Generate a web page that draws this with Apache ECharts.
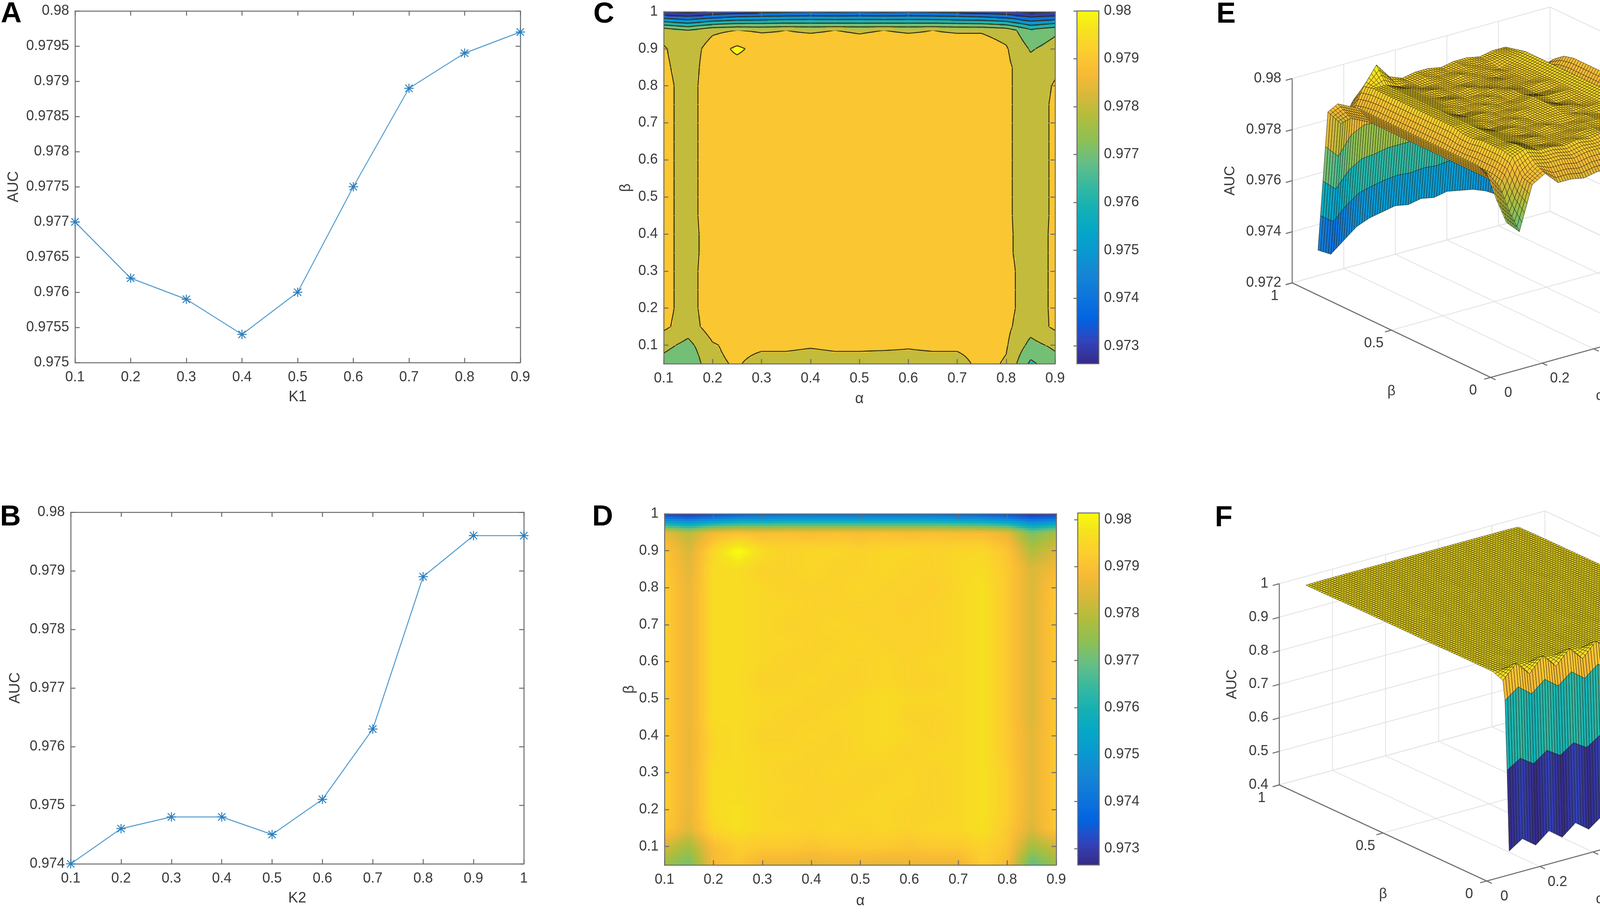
<!DOCTYPE html>
<html>
<head>
<meta charset="utf-8">
<script src="https://cdn.jsdelivr.net/npm/echarts@6/dist/echarts.min.js"></script>
<style>
  html, body { margin: 0; padding: 0; background: #fff; }
  #chart { width: 4550px; height: 2342px; }
</style>
</head>
<body>
<div id="chart"></div>
<script>
// ---- panel A / B : AUC against K1 and K2 ----
const K1 = [0.1, 0.2, 0.3, 0.4, 0.5, 0.6, 0.7, 0.8, 0.9]
const AUC_K1 = [0.9770, 0.9762, 0.9759, 0.9754, 0.9760, 0.9775, 0.9789, 0.9794, 0.9797]
const K2 = [0.1, 0.2, 0.3, 0.4, 0.5, 0.6, 0.7, 0.8, 0.9, 1.0]
const AUC_K2 = [0.9740, 0.9746, 0.9748, 0.9748, 0.9745, 0.9751, 0.9763, 0.9789, 0.9796, 0.9796]

// ---- panels C / D / E : AUC over the (alpha, beta) grid ----
const ALPHA = [0.1, 0.15, 0.2, 0.25, 0.3, 0.35, 0.4, 0.45, 0.5, 0.55, 0.6, 0.65, 0.7, 0.75, 0.8, 0.85, 0.9]
const BETA = [0.05, 0.1, 0.15, 0.2, 0.25, 0.3, 0.35, 0.4, 0.45, 0.5, 0.55, 0.6, 0.65, 0.7, 0.75, 0.8, 0.85, 0.9, 0.95, 1.0]
// one row per beta (bottom to top), one column per alpha
const AUC_AB = [
  [0.9776,0.9771,0.9788,0.9791,0.9786,0.9786,0.9785,0.9786,0.9786,0.9785,0.9786,0.9786,0.9786,0.9793,0.9789,0.9768,0.9776],
  [0.9783,0.9777,0.9789,0.9793,0.9792,0.9792,0.9791,0.9792,0.9792,0.9792,0.9791,0.9792,0.9792,0.9794,0.9791,0.9777,0.9782],
  [0.9792,0.9785,0.9795,0.9797,0.9795,0.9795,0.9794,0.9795,0.9794,0.9795,0.9794,0.9795,0.9795,0.9797,0.9792,0.9784,0.9792],
  [0.9793,0.9786,0.9796,0.9797,0.9795,0.9794,0.9794,0.9794,0.9795,0.9795,0.9794,0.9794,0.9795,0.9797,0.9793,0.9785,0.9792],
  [0.9793,0.9786,0.9796,0.9796,0.9795,0.9795,0.9794,0.9794,0.9794,0.9795,0.9795,0.9794,0.9795,0.9797,0.9793,0.9785,0.9792],
  [0.9793,0.9786,0.9796,0.9796,0.9795,0.9794,0.9794,0.9795,0.9794,0.9794,0.9795,0.9794,0.9795,0.9797,0.9793,0.9785,0.9792],
  [0.9793,0.9786,0.9795,0.9796,0.9795,0.9795,0.9794,0.9794,0.9795,0.9795,0.9794,0.9795,0.9795,0.9797,0.9792,0.9785,0.9792],
  [0.9793,0.9786,0.9795,0.9796,0.9794,0.9794,0.9795,0.9794,0.9795,0.9796,0.9795,0.9794,0.9795,0.9797,0.9792,0.9785,0.9792],
  [0.9793,0.9786,0.9796,0.9796,0.9795,0.9794,0.9794,0.9795,0.9795,0.9796,0.9794,0.9794,0.9795,0.9797,0.9792,0.9784,0.9792],
  [0.9793,0.9786,0.9796,0.9796,0.9795,0.9795,0.9794,0.9794,0.9795,0.9796,0.9795,0.9795,0.9795,0.9797,0.9792,0.9784,0.9792],
  [0.9793,0.9786,0.9796,0.9796,0.9794,0.9794,0.9795,0.9794,0.9794,0.9795,0.9794,0.9794,0.9795,0.9797,0.9792,0.9784,0.9792],
  [0.9793,0.9786,0.9796,0.9796,0.9795,0.9794,0.9794,0.9795,0.9794,0.9795,0.9794,0.9795,0.9795,0.9797,0.9792,0.9784,0.9792],
  [0.9793,0.9786,0.9796,0.9796,0.9795,0.9795,0.9794,0.9794,0.9795,0.9794,0.9794,0.9794,0.9795,0.9797,0.9792,0.9784,0.9792],
  [0.9793,0.9786,0.9796,0.9796,0.9795,0.9794,0.9794,0.9795,0.9794,0.9794,0.9794,0.9794,0.9795,0.9797,0.9792,0.9784,0.9792],
  [0.9793,0.9786,0.9796,0.9796,0.9795,0.9795,0.9794,0.9794,0.9794,0.9794,0.9793,0.9794,0.9795,0.9797,0.9792,0.9784,0.9792],
  [0.9793,0.9786,0.9796,0.9796,0.9795,0.9794,0.9794,0.9794,0.9795,0.9794,0.9794,0.9793,0.9795,0.9797,0.9792,0.9784,0.9791],
  [0.9792,0.9785,0.9796,0.9796,0.9794,0.9794,0.9795,0.9794,0.9794,0.9795,0.9794,0.9794,0.9795,0.9796,0.9792,0.9784,0.9788],
  [0.9791,0.9784,0.9795,0.9802,0.9796,0.9794,0.9795,0.9795,0.9794,0.9795,0.9795,0.9794,0.9795,0.9795,0.9791,0.9779,0.9784],
  [0.9786,0.9780,0.9788,0.9790,0.9789,0.9790,0.9789,0.9790,0.9789,0.9790,0.9789,0.9790,0.9789,0.9789,0.9786,0.9772,0.9778],
  [0.9730,0.9727,0.9731,0.9735,0.9737,0.9738,0.9739,0.9738,0.9739,0.9738,0.9739,0.9738,0.9737,0.9735,0.9732,0.9727,0.9729]
]

// ---- panel F : second (alpha, beta) surface ----
const BETA_F = [0.02, 0.03, 0.04, 0.05, 0.1, 0.2, 0.3, 0.4, 0.5, 0.6, 0.7, 0.8, 0.9, 1.0]
const AUC_F = [
  [0.462,0.488,0.458,0.490,0.460,0.492,0.462,0.491,0.463,0.493,0.465,0.494,0.466,0.495,0.468,0.496,0.470],
  [0.700,0.725,0.698,0.727,0.701,0.728,0.703,0.729,0.704,0.730,0.706,0.731,0.707,0.732,0.709,0.733,0.710],
  [0.905,0.935,0.903,0.936,0.905,0.937,0.906,0.938,0.907,0.938,0.908,0.939,0.909,0.940,0.910,0.940,0.912],
  [0.962,1.002,0.960,1.003,0.961,1.003,0.962,1.004,0.962,1.004,0.963,1.004,0.963,1.005,0.964,1.005,0.965],
  [0.975,0.976,0.975,0.976,0.975,0.976,0.975,0.976,0.975,0.976,0.975,0.976,0.975,0.976,0.975,0.976,0.975],
  [0.975,0.975,0.976,0.975,0.975,0.975,0.976,0.975,0.975,0.975,0.976,0.975,0.975,0.975,0.976,0.975,0.975],
  [0.975,0.975,0.975,0.975,0.976,0.975,0.975,0.975,0.975,0.976,0.975,0.975,0.975,0.975,0.975,0.975,0.975],
  [0.974,0.975,0.975,0.975,0.975,0.975,0.975,0.975,0.975,0.975,0.975,0.975,0.975,0.975,0.975,0.975,0.974],
  [0.975,0.975,0.975,0.975,0.975,0.975,0.975,0.975,0.975,0.975,0.975,0.975,0.975,0.975,0.975,0.975,0.975],
  [0.975,0.975,0.975,0.976,0.975,0.975,0.975,0.975,0.975,0.975,0.975,0.975,0.976,0.975,0.975,0.975,0.975],
  [0.975,0.975,0.975,0.975,0.975,0.975,0.975,0.976,0.975,0.975,0.975,0.975,0.975,0.975,0.975,0.975,0.975],
  [0.975,0.975,0.975,0.975,0.975,0.975,0.975,0.975,0.975,0.975,0.975,0.975,0.975,0.975,0.975,0.975,0.975],
  [0.974,0.975,0.975,0.975,0.975,0.975,0.975,0.975,0.975,0.975,0.975,0.975,0.975,0.975,0.975,0.975,0.975],
  [0.974,0.975,0.975,0.975,0.975,0.975,0.975,0.975,0.975,0.975,0.975,0.975,0.975,0.975,0.975,0.975,0.974]
]

// tick labels
const BETA_TICKS = [0.1, 0.2, 0.3, 0.4, 0.5, 0.6, 0.7, 0.8, 0.9, 1]
const CBAR_TICKS = [0.973, 0.974, 0.975, 0.976, 0.977, 0.978, 0.979, 0.98]
const CONTOUR_LEVELS = [0.973, 0.974, 0.975, 0.976, 0.977, 0.978, 0.979, 0.98]
const E_Z_TICKS = [0.972, 0.974, 0.976, 0.978, 0.98]
const F_Z_TICKS = [0.4, 0.5, 0.6, 0.7, 0.8, 0.9, 1]
const A3_TICKS = [0, 0.2, 0.4, 0.6, 0.8, 1]
const B3_TICKS = [0, 0.5, 1]

// colour limits of the two colour bars
const CLIM_C = [0.97263, 0.98]
const CLIM_D = [0.97265, 0.98014]

const FONT = "'Liberation Sans', Arial, Helvetica, sans-serif"
const AXC = '#6b6b6b'
const TXT = '#3a3a3a'

// parula, sampled
const PARULA = [[0,53,42,135],[4,50,67,186],[8,3,99,225],[12,13,117,220],[16,20,133,212],[20,9,152,209],
  [24,6,167,198],[28,21,177,180],[32,56,185,158],[36,101,190,134],[40,141,192,85],[44,176,189,60],
  [48,216,184,58],[52,248,186,53],[56,252,206,46],[60,245,228,29],[63,249,251,14]]
function parula(f) {
  f = Math.max(0, Math.min(1, f)) * 63
  let k = 0
  while (k < PARULA.length - 2 && PARULA[k + 1][0] < f) k++
  const a = PARULA[k], b = PARULA[k + 1], t = (f - a[0]) / (b[0] - a[0])
  const c = [1, 2, 3].map(i => Math.round(a[i] + (b[i] - a[i]) * t))
  return 'rgb(' + c.join(',') + ')'
}
const fmt = v => String(parseFloat(v.toFixed(5)))
const bilin = (z, s, t) => z[0] * (1 - s) * (1 - t) + z[1] * s * (1 - t) + z[2] * (1 - s) * t + z[3] * s * t

function cells(alphas, betas, Z) {
  const out = []
  for (let r = 0; r < betas.length - 1; r++)
    for (let c = 0; c < alphas.length - 1; c++)
      out.push([alphas[c], betas[r], alphas[c + 1], betas[r + 1], Z[r][c], Z[r][c + 1], Z[r + 1][c], Z[r + 1][c + 1]])
  return out
}

// filled field (smooth or banded with contour lines)
function fieldItem(opt) {
  return function (params, api) {
    const a0 = api.value(0), b0 = api.value(1), a1 = api.value(2), b1 = api.value(3)
    const z = [api.value(4), api.value(5), api.value(6), api.value(7)]
    const p0 = api.coord([a0, b0]), p1 = api.coord([a1, b1])
    const n = opt.sub, w = (p1[0] - p0[0]) / n, h = (p1[1] - p0[1]) / n
    const kids = []
    for (let j = 0; j < n; j++)
      for (let i = 0; i < n; i++) {
        const v = bilin(z, (i + 0.5) / n, (j + 0.5) / n)
        kids.push({ type: 'rect', shape: { x: p0[0] + i * w, y: p0[1] + (j + 1) * h, width: w + 1, height: -h + 1 },
          style: { fill: opt.color(v) } })
      }
    if (opt.levels) {
      const nv = []
      for (let j = 0; j <= n; j++) { nv.push([]); for (let i = 0; i <= n; i++) nv[j].push(bilin(z, i / n, j / n)) }
      let d = ''
      for (let j = 0; j < n; j++)
        for (let i = 0; i < n; i++) {
          const c = [nv[j][i], nv[j][i + 1], nv[j + 1][i + 1], nv[j + 1][i]]
          const pos = [[i, j], [i + 1, j], [i + 1, j + 1], [i, j + 1]]
          opt.levels.forEach(L => {
            const pts = []
            ;[[0, 1], [1, 2], [3, 2], [0, 3]].forEach(([p, q]) => {
              if ((c[p] < L) !== (c[q] < L)) {
                const t = (L - c[p]) / (c[q] - c[p])
                const gx = pos[p][0] + t * (pos[q][0] - pos[p][0]), gy = pos[p][1] + t * (pos[q][1] - pos[p][1])
                pts.push([p0[0] + gx * w, p0[1] + gy * h])
              }
            })
            for (let k = 0; k + 1 < pts.length; k += 2)
              d += 'M' + pts[k][0].toFixed(1) + ' ' + pts[k][1].toFixed(1) + 'L' + pts[k + 1][0].toFixed(1) + ' ' + pts[k + 1][1].toFixed(1)
          })
        }
      if (d) kids.push({ type: 'path', shape: { pathData: d }, style: { fill: 'none', stroke: '#2f2a12', lineWidth: 2.4 } })
    }
    return { type: 'group', children: kids }
  }
}

function bandColor(v) {
  let lv = CLIM_C[0]
  if (v >= CONTOUR_LEVELS[0]) lv = Math.min(0.98, 0.973 + Math.floor((v - 0.973) / 0.001 + 1e-7) * 0.001)
  return parula((lv - CLIM_C[0]) / (CLIM_C[1] - CLIM_C[0]))
}
const smoothColor = v => parula((v - CLIM_D[0]) / (CLIM_D[1] - CLIM_D[0]))

// colour bar pieces
function cbarData(clim) {
  const out = [], N = 160
  for (let k = 0; k < N; k++)
    out.push([clim[0] + (clim[1] - clim[0]) * k / N, clim[0] + (clim[1] - clim[0]) * (k + 1) / N, (k + 0.5) / N])
  return out
}
function cbarItem(params, api) {
  const p0 = api.coord([0, api.value(0)]), p1 = api.coord([1, api.value(1)])
  return { type: 'rect', shape: { x: p0[0], y: p1[1], width: p1[0] - p0[0], height: p0[1] - p1[1] + 1 },
    style: { fill: parula(api.value(2)) } }
}
function borderItem(clim) {
  return function (params, api) {
    const p0 = api.coord([0, clim[0]]), p1 = api.coord([1, clim[1]])
    return { type: 'rect', shape: { x: p0[0], y: p1[1], width: p1[0] - p0[0], height: p0[1] - p1[1] },
      style: { fill: 'none', stroke: AXC, lineWidth: 2.5 } }
  }
}

// 3-D views (orthographic, in panel pixel units of a hidden grid)
const VIEW_E = { x0: 766, y0: 966, ax: 660, ay: -183, bx: -508, by: -242, zh: -523, z0: 0.972, z1: 0.98,
  zTicks: E_Z_TICKS, zNameGap: 158 }
const VIEW_F = { x0: 756, y0: 1085, ax: 680, ay: -186, bx: -531, by: -246, zh: -515, z0: 0.4, z1: 1.0,
  zTicks: F_Z_TICKS, zNameGap: 120 }

function projector(V, api) {
  return (a, b, z) => api.coord([V.x0 + a * V.ax + b * V.bx, V.y0 + a * V.ay + b * V.by + (z - V.z0) / (V.z1 - V.z0) * V.zh])
}
function frameItem(V) {
  return function (params, api) {
    const P = projector(V, api), kids = []
    const line = (p, q, color, w) => kids.push({ type: 'line', shape: { x1: p[0], y1: p[1], x2: q[0], y2: q[1] },
      style: { stroke: color, lineWidth: w } })
    const text = (s, x, y, align, rot) => kids.push({ type: 'text', x: x, y: y, rotation: rot || 0,
      style: { text: s, fontSize: 36, fontFamily: FONT, fill: TXT, align: align, verticalAlign: 'middle' } })
    const G = '#e2e2e2'
    A3_TICKS.forEach(a => { line(P(a, 0, V.z0), P(a, 1, V.z0), G, 2); line(P(a, 1, V.z0), P(a, 1, V.z1), G, 2) })
    B3_TICKS.forEach(b => { line(P(0, b, V.z0), P(1, b, V.z0), G, 2); line(P(1, b, V.z0), P(1, b, V.z1), G, 2) })
    V.zTicks.forEach(z => { line(P(0, 1, z), P(1, 1, z), G, 2); line(P(1, 0, z), P(1, 1, z), G, 2) })
    line(P(0, 1, V.z0), P(0, 1, V.z1), AXC, 2.5)
    line(P(0, 0, V.z0), P(0, 1, V.z0), AXC, 2.5)
    line(P(0, 0, V.z0), P(1, 0, V.z0), AXC, 2.5)
    V.zTicks.forEach(z => {
      const p = P(0, 1, z)
      line(p, P(-0.025, 1, z), AXC, 2.5)
      text(fmt(z), p[0] - 28, p[1], 'right')
    })
    B3_TICKS.forEach(b => {
      const p = P(0, b, V.z0)
      line(p, P(-0.025, b, V.z0), AXC, 2.5)
      text(fmt(b), p[0] - 45, p[1] + 34, 'center')
    })
    A3_TICKS.forEach(a => {
      const p = P(a, 0, V.z0)
      line(p, P(a, -0.025, V.z0), AXC, 2.5)
      text(fmt(a), p[0] + 45, p[1] + 40, 'center')
    })
    const zm = P(0, 1, (V.z0 + V.z1) / 2)
    text('AUC', zm[0] - V.zNameGap, zm[1], 'center', Math.PI / 2)
    const bm = P(0, 0.5, V.z0)
    text('β', bm[0], bm[1] + 157, 'center')
    const am = P(0.5, 0, V.z0)
    text('α', am[0] - 50, am[1] + 140, 'center')
    return { type: 'group', children: kids }
  }
}
function surfaceData(V, alphas, betas, Z) {
  return cells(alphas, betas, Z).sort((p, q) =>
    ((q[0] + q[2]) * -V.ay + (q[1] + q[3]) * -V.by) - ((p[0] + p[2]) * -V.ay + (p[1] + p[3]) * -V.by))
}
function surfaceItem(V, subA, stepB, clim) {
  return function (params, api) {
    const P = projector(V, api)
    const a0 = api.value(0), b0 = api.value(1), a1 = api.value(2), b1 = api.value(3)
    const z = [api.value(4), api.value(5), api.value(6), api.value(7)]
    const nb = Math.max(1, Math.round((b1 - b0) / stepB))
    const kids = []
    for (let v = nb - 1; v >= 0; v--)
      for (let u = subA - 1; u >= 0; u--) {
        const s0 = u / subA, s1 = (u + 1) / subA, t0 = v / nb, t1 = (v + 1) / nb
        const A0 = a0 + (a1 - a0) * s0, A1 = a0 + (a1 - a0) * s1, B0 = b0 + (b1 - b0) * t0, B1 = b0 + (b1 - b0) * t1
        const z00 = bilin(z, s0, t0), z10 = bilin(z, s1, t0), z11 = bilin(z, s1, t1), z01 = bilin(z, s0, t1)
        kids.push({ type: 'polygon', shape: { points: [P(A0, B0, z00), P(A1, B0, z10), P(A1, B1, z11), P(A0, B1, z01)] },
          style: { fill: parula((z00 - clim[0]) / (clim[1] - clim[0])), stroke: 'rgba(30,28,10,0.85)', lineWidth: 1 } })
      }
    return { type: 'group', children: kids }
  }
}
const flat = m => [].concat(...m)
const CLIM_E = [Math.min(...flat(AUC_AB)), Math.max(...flat(AUC_AB))]
const CLIM_F = [Math.min(...flat(AUC_F)), Math.max(...flat(AUC_F))]

// 2-D axes with a MATLAB style box
const lineStyle = { color: AXC, width: 2.5 }
function xAxes(gi, min, max, name, gap) {
  const base = { gridIndex: gi, type: 'value', min: min, max: max, interval: 0.1, splitLine: { show: false },
    axisLine: { show: true, onZero: false, lineStyle }, axisTick: { inside: true, length: 12, lineStyle } }
  return [
    Object.assign({}, base, { position: 'bottom', name: name, nameLocation: 'middle', nameGap: gap,
      nameTextStyle: { fontSize: 38, color: TXT, fontFamily: FONT },
      axisLabel: { fontSize: 36, color: TXT, fontFamily: FONT, margin: 20, formatter: fmt } }),
    Object.assign({}, base, { position: 'top', axisLabel: { show: false } })
  ]
}
function yAxes(gi, min, max, interval, name, gap, custom) {
  const base = { gridIndex: gi, type: 'value', min: min, max: max, splitLine: { show: false },
    axisLine: { show: true, onZero: false, lineStyle }, axisTick: { inside: true, length: 12, lineStyle } }
  if (interval) base.interval = interval
  if (custom) base.axisTick = Object.assign({}, base.axisTick, { customValues: custom })
  const lab = { fontSize: 36, color: TXT, fontFamily: FONT, margin: 15, formatter: fmt }
  if (custom) lab.customValues = custom
  return [
    Object.assign({}, base, { position: 'left', name: name, nameLocation: 'middle', nameGap: gap, nameRotate: 90,
      nameTextStyle: { fontSize: 38, color: TXT, fontFamily: FONT }, axisLabel: lab }),
    Object.assign({}, base, { position: 'right', axisLabel: { show: false } })
  ]
}
function cbarAxes(gi, clim) {
  return {
    x: { gridIndex: gi, type: 'value', min: 0, max: 1, show: false },
    y: { gridIndex: gi, type: 'value', min: clim[0], max: clim[1], position: 'right', splitLine: { show: false },
      axisLine: { show: false }, axisTick: { inside: true, length: 9, customValues: CBAR_TICKS, lineStyle },
      axisLabel: { fontSize: 36, color: TXT, fontFamily: FONT, margin: 13, customValues: CBAR_TICKS, formatter: fmt } }
  }
}
const hidden = (gi, max, inv) => ({ gridIndex: gi, type: 'value', min: 0, max: max, show: false, inverse: !!inv })

const STAR = 'path://M9 0L11 0L11 20L9 20ZM0 9L20 9L20 11L0 11ZM1.5 2.9L2.9 1.5L18.5 17.1L17.1 18.5ZM17.1 1.5L18.5 2.9L2.9 18.5L1.5 17.1Z'

const cbC = cbarAxes(3, CLIM_C), cbD = cbarAxes(5, CLIM_D)
const option = {
  animation: false,
  backgroundColor: '#fff',
  grid: [
    { left: 192, top: 28, width: 1140, height: 900 },
    { left: 181, top: 1311, width: 1160, height: 900 },
    { left: 1699, top: 30, width: 1002, height: 901 },
    { left: 2757, top: 28, width: 56, height: 903 },
    { left: 1701, top: 1315, width: 1003, height: 899 },
    { left: 2759, top: 1313, width: 55, height: 901 },
    { left: 3050, top: 0, width: 1500, height: 1170 },
    { left: 3050, top: 1170, width: 1500, height: 1170 }
  ],
  xAxis: [
    ...xAxes(0, 0.1, 0.9, 'K1', 70),
    ...xAxes(1, 0.1, 1, 'K2', 70),
    ...xAxes(2, 0.1, 0.9, 'α', 72),
    cbC.x,
    ...xAxes(4, 0.1, 0.9, 'α', 74),
    cbD.x,
    hidden(6, 1500), hidden(7, 1500)
  ],
  yAxis: [
    ...yAxes(0, 0.975, 0.98, 0.0005, 'AUC', 137),
    ...yAxes(1, 0.974, 0.98, 0.001, 'AUC', 122),
    ...yAxes(2, 0.05, 1, null, 'β', 77, BETA_TICKS),
    cbC.y,
    ...yAxes(4, 0.05, 1, null, 'β', 70, BETA_TICKS),
    cbD.y,
    hidden(6, 1170, true), hidden(7, 1170, true)
  ],
  graphic: [
    ['A', 2, 0], ['B', 0, 1288], ['C', 1519, 1], ['D', 1516, 1288], ['E', 3114, 1], ['F', 3110, 1290]
  ].map(([t, x, y]) => ({ type: 'text', left: x, top: y,
    style: { text: t, fontSize: 74, fontWeight: 'bold', fontFamily: FONT, fill: '#000' } })),
  series: [
    { type: 'line', xAxisIndex: 0, yAxisIndex: 0, data: K1.map((k, i) => [k, AUC_K1[i]]),
      symbol: STAR, symbolSize: 24, lineStyle: { color: '#4f9bd0', width: 2.5 }, itemStyle: { color: '#2a7dbd' } },
    { type: 'line', xAxisIndex: 2, yAxisIndex: 2, data: K2.map((k, i) => [k, AUC_K2[i]]),
      symbol: STAR, symbolSize: 24, lineStyle: { color: '#4f9bd0', width: 2.5 }, itemStyle: { color: '#2a7dbd' } },
    { type: 'custom', xAxisIndex: 4, yAxisIndex: 4, z: -1, data: cells(ALPHA, BETA, AUC_AB),
      renderItem: fieldItem({ sub: 8, color: bandColor, levels: CONTOUR_LEVELS }) },
    { type: 'custom', xAxisIndex: 6, yAxisIndex: 6, data: cbarData(CLIM_C), renderItem: cbarItem },
    { type: 'custom', xAxisIndex: 6, yAxisIndex: 6, data: [[0]], renderItem: borderItem(CLIM_C) },
    { type: 'custom', xAxisIndex: 7, yAxisIndex: 7, z: -1, data: cells(ALPHA, BETA, AUC_AB),
      renderItem: fieldItem({ sub: 8, color: smoothColor }) },
    { type: 'custom', xAxisIndex: 9, yAxisIndex: 9, data: cbarData(CLIM_D), renderItem: cbarItem },
    { type: 'custom', xAxisIndex: 9, yAxisIndex: 9, data: [[0]], renderItem: borderItem(CLIM_D) },
    { type: 'custom', xAxisIndex: 10, yAxisIndex: 10, data: [[0]], renderItem: frameItem(VIEW_E) },
    { type: 'custom', xAxisIndex: 10, yAxisIndex: 10, data: surfaceData(VIEW_E, ALPHA, BETA, AUC_AB),
      renderItem: surfaceItem(VIEW_E, 5, 0.0125, CLIM_E) },
    { type: 'custom', xAxisIndex: 11, yAxisIndex: 11, data: [[0]], renderItem: frameItem(VIEW_F) },
    { type: 'custom', xAxisIndex: 11, yAxisIndex: 11, data: surfaceData(VIEW_F, ALPHA, BETA_F, AUC_F),
      renderItem: surfaceItem(VIEW_F, 5, 0.0125, CLIM_F) }
  ]
}

const chart = echarts.init(document.getElementById('chart'), null, { renderer: 'canvas' })
chart.setOption(option)
</script>
</body>
</html>
